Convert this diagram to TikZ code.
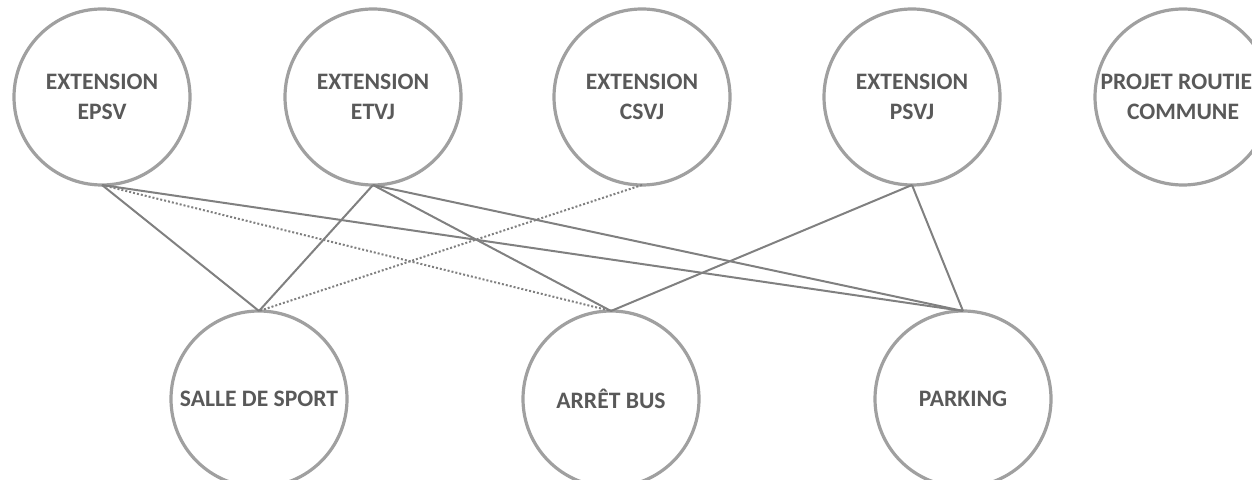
\documentclass[tikz,border=0pt]{standalone}
\usepackage{fontspec}
\setmainfont{Carlito}
\definecolor{ringgray}{HTML}{A0A0A0}
\definecolor{linegray}{HTML}{808080}
\definecolor{textgray}{HTML}{595959}
\tikzset{
  site/.style={circle, draw=ringgray, line width=1.6pt, minimum size=88pt,
    inner sep=0pt, outer sep=0pt, align=center, text=textgray,
    font=\bfseries\fontsize{11.8}{15.3}\selectfont},
  lien/.style={draw=linegray, line width=1pt},
  lienpot/.style={lien, dash pattern=on 1pt off 1pt},
}
\begin{document}
\begin{tikzpicture}[x=0.5pt, y=-0.5pt]
  \useasboundingbox (0,0) rectangle (1252,480);
  \clip (0,0) rectangle (1252,480);

  % projets (rangee du haut)
  \node[site] (epsv) at (102,97) {EXTENSION\\EPSV};
  \node[site] (etvj) at (373,97) {EXTENSION\\ETVJ};
  \node[site] (csvj) at (642,97) {EXTENSION\\CSVJ};
  \node[site] (psvj) at (912,97) {EXTENSION\\PSVJ};
  \node[site] (route) at (1183,97) {PROJET ROUTIER\\COMMUNE};

  % equipements (rangee du bas)
  \node[site] (salle) at (259,399) {SALLE DE SPORT};
  \node[site] (bus) at (611,399) {ARRÊT BUS};
  \node[site] (parking) at (963,399) {PARKING};

  % liens
  \draw[lien] (epsv.south) -- (salle.north);
  \draw[lienpot] (epsv.south) -- (bus.north);
  \draw[lien] (epsv.south) -- (parking.north);
  \draw[lien] (etvj.south) -- (salle.north);
  \draw[lien] (etvj.south) -- (bus.north);
  \draw[lien] (etvj.south) -- (parking.north);
  \draw[lienpot] (csvj.south) -- (salle.north);
  \draw[lien] (psvj.south) -- (bus.north);
  \draw[lien] (psvj.south) -- (parking.north);
\end{tikzpicture}
\end{document}
